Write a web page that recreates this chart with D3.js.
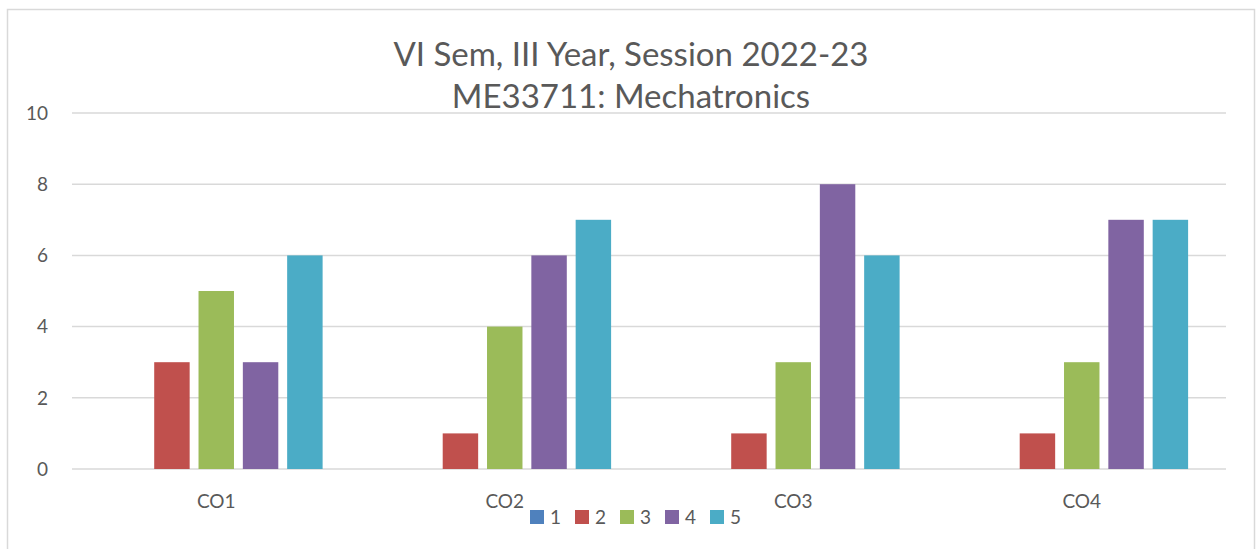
<!DOCTYPE html>
<html>
<head>
<meta charset="utf-8">
<script src="https://cdn.jsdelivr.net/npm/d3@7"></script>
<style>
	body { margin: 0; background: #fff; }
	svg text { font-family: Lato, "Noto Sans", sans-serif; fill: #595959; }
</style>
</head>
<body>
<svg id="vis" width="1257" height="549"></svg>
<script>
// chart values
const categories = ["CO1", "CO2", "CO3", "CO4"];
const seriesNames = ["1", "2", "3", "4", "5"];
const seriesColors = ["#4F81BD", "#C0504D", "#9BBB59", "#8064A2", "#4BACC6"];
const values = {
	"1": [0, 0, 0, 0],
	"2": [3, 1, 1, 1],
	"3": [5, 4, 3, 3],
	"4": [3, 6, 8, 7],
	"5": [6, 7, 6, 7]
};
const yTicks = [0, 2, 4, 6, 8, 10];
const titleLines = ["VI Sem, III Year, Session 2022-23", "ME33711: Mechatronics"];

const svg = d3.select("svg#vis");

const plot = { left: 72, right: 1226, top: 113, bottom: 469 };

// chart border (bottom runs off the picture)
svg.append("rect")
	.attr("x", 7.5)
	.attr("y", 9.5)
	.attr("width", 1247)
	.attr("height", 560)
	.attr("fill", "#fff")
	.attr("stroke", "#d9d9d9")
	.attr("stroke-width", 1.5);

const x0 = d3.scaleBand()
	.domain(categories)
	.range([plot.left, plot.right]);

const x1 = d3.scaleBand()
	.domain(seriesNames)
	.range([0, x0.bandwidth()])
	.paddingInner(0.2)
	.paddingOuter(0.855);

const y = d3.scaleLinear()
	.domain([0, 10])
	.range([plot.bottom, plot.top]);

// gridlines
svg.append("g")
	.selectAll("line")
	.data(yTicks)
	.join("line")
	.attr("x1", plot.left)
	.attr("x2", plot.right)
	.attr("y1", d => y(d))
	.attr("y2", d => y(d))
	.attr("stroke", "#d9d9d9")
	.attr("stroke-width", 1.5);

// y tick labels
svg.append("g")
	.selectAll("text")
	.data(yTicks)
	.join("text")
	.attr("x", 48)
	.attr("y", d => y(d))
	.attr("dy", "0.36em")
	.attr("text-anchor", "end")
	.style("font-size", "19px")
	.text(d => d);

// bars
const groups = svg.append("g")
	.selectAll("g")
	.data(categories)
	.join("g")
	.attr("transform", d => translate(x0(d), 0));

groups.selectAll("rect")
	.data((c, i) => seriesNames.map((s, j) => ({ s: s, v: values[s][i], color: seriesColors[j] })))
	.join("rect")
	.attr("x", d => x1(d.s))
	.attr("width", x1.bandwidth())
	.attr("y", d => y(d.v))
	.attr("height", d => y(0) - y(d.v))
	.attr("fill", d => d.color);

// category labels
svg.append("g")
	.selectAll("text")
	.data(categories)
	.join("text")
	.attr("x", d => x0(d) + x0.bandwidth() / 2)
	.attr("y", 508)
	.attr("text-anchor", "middle")
	.style("font-size", "19px")
	.text(d => d);

// title
svg.append("g")
	.selectAll("text")
	.data(titleLines)
	.join("text")
	.attr("x", 631)
	.attr("y", (d, i) => 66 + i * 42)
	.attr("text-anchor", "middle")
	.style("font-size", "33px")
	.text(d => d);

// legend
const legend = svg.append("g")
	.selectAll("g")
	.data(seriesNames)
	.join("g")
	.attr("transform", (d, i) => translate(530 + i * 45, 510));

legend.append("rect")
	.attr("width", 14)
	.attr("height", 14)
	.attr("fill", (d, i) => seriesColors[i]);

legend.append("text")
	.attr("x", 20)
	.attr("y", 14)
	.style("font-size", "19px")
	.text(d => d);

function translate(x, y) {
	return "translate(" + x + "," + y + ")";
}
</script>
</body>
</html>
